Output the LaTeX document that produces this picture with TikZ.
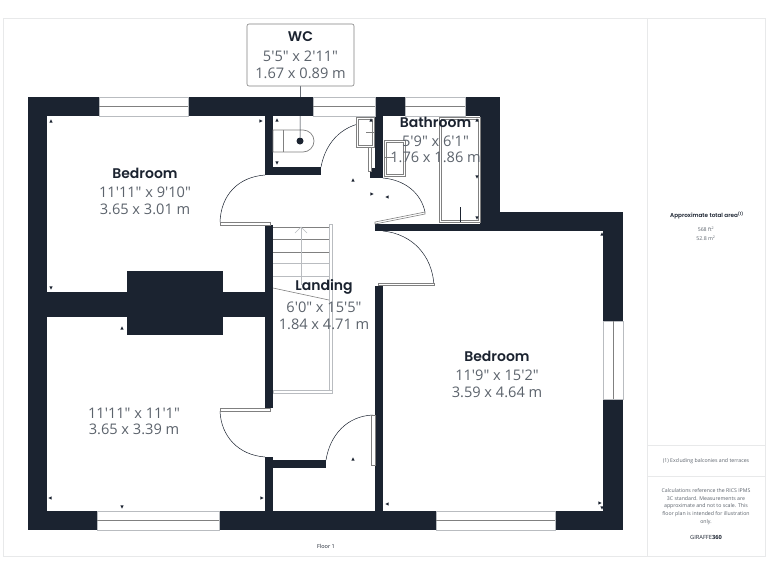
\documentclass[tikz,border=0pt]{standalone}
\usepackage{fontspec}
\setmainfont{Open Sans}
\newfontfamily\dimfont{Open Sans}
\newfontfamily\titlefont{Poppins SemiBold}
\usepackage{xcolor}
\definecolor{wallcol}{HTML}{1B2330}
\definecolor{dimcol}{HTML}{5C636C}
\definecolor{framecol}{HTML}{E8E9EA}
\definecolor{railcol}{HTML}{B9BCC0}
\tikzset{
    wall/.style={fill=wallcol,draw=none},
    glazing/.style={fill=white,draw=railcol,line width=0.7pt},
    pane/.style={draw=gray,line width=0.7pt},
    swing/.style={draw=wallcol,line width=0.5pt},
    leaf/.style={fill=white,draw=gray,line width=0.6pt},
    fitting/.style={draw=gray,line width=0.7pt},
    rail/.style={draw=railcol,line width=0.8pt,fill=white},
    tread/.style={draw=gray,line width=0.6pt},
    frameline/.style={draw=framecol,line width=0.6pt},
    roomtitle/.style={font=\titlefont\fontsize{14}{16}\selectfont,text=wallcol,inner sep=0pt},
    roomdim/.style={font=\dimfont\fontsize{14.6}{16.5}\selectfont,text=dimcol,inner sep=0pt,align=center},
    tick/.style={fill=wallcol,draw=none},
    sidetext/.style={font=\fontsize{5.2}{7.6}\selectfont,text=dimcol,inner sep=0pt,align=center},
}
\begin{document}
\begin{tikzpicture}[x=1pt,y=-1pt]
\useasboundingbox (0,0) rectangle (768,576);
\fill[white] (0,0) rectangle (768,576);

% frame and side panel
\draw[frameline] (3,18) rectangle (765,556);
\draw[frameline] (647,18) -- (647,556);
\draw[frameline] (647,445) -- (765,445);
\draw[frameline] (647,476) -- (765,476);

% walls
\foreach \xa/\ya/\xb/\yb in {28/97/99/116,188/97/313/116,375/97/405/116,465/97/500/116,
    28/97/47/530,28/511/97/530,219/511/436/530,555/511/623/530,
    603/212/623/321,603/399/623/530,480/212/623/231,480/97/500/231,375/224/480/231,
    47/292/265/317,127/271/223/335,265/225/273/408,265/457/273/511,273/460/326/468,
    265/116/273/175,265/167/321/175,375/116/383/178,370/168/383/178,375/286/383/511}
    \fill[wall] (\xa,\ya) rectangle (\xb,\yb);

% windows
\foreach \xa/\xb/\ya/\yb in {99/188/97/116,313/375/97/116,405/465/97/116,97/219/511/530,436/555/511/530}{
    \draw[glazing] (\xa,\ya) rectangle (\xb,\yb);
    \draw[pane] (\xa,{(\ya+\yb)/2}) -- (\xb,{(\ya+\yb)/2});
}
\draw[glazing] (603,321) rectangle (623,399);
\draw[pane] (613,321) -- (613,399);

% doors
\draw[swing] (321,167) .. controls (326,140) and (345,123) .. (371,122);
\draw[leaf] (368,122) rectangle (371,171);
\draw[swing] (265,175) .. controls (238,177) and (221,195) .. (220,222);
\draw[leaf] (220,222) rectangle (270,225);
\draw[swing] (383,178) .. controls (405,180) and (421,193) .. (425,212);
\draw[leaf] (375,222) -- (425,212) -- (425,214) -- (375,224) -- cycle;
\draw[swing] (383,231) .. controls (412,234) and (432,255) .. (434,285);
\draw[leaf] (378,283) rectangle (434,285);
\draw[swing] (220,411) .. controls (221,436) and (238,455) .. (265,457);
\draw[leaf] (220,408) rectangle (270,411);
\draw[swing] (326,460) .. controls (330,435) and (347,416) .. (373,415);
\draw[leaf] (371,415) rectangle (375,465);

% fittings
\draw[fitting,fill=white] (356,117) rectangle (374,147);
\draw[fitting] (358,119) rectangle (372,145);
\draw[fitting] (366,132) -- (374,132);
\draw[fitting,fill=white] (384,140) rectangle (405,176);
\draw[fitting] (386,142) rectangle (403,174);
\draw[fitting] (384,157) -- (394,157);
\draw[fitting,fill=white] (439,117) rectangle (480,222);
\draw[fitting] (441,119) rectangle (478,220);
\draw[wallcol,line width=0.5pt] (460,207) -- (460,222);
\draw[fitting,fill=white] (273,130) -- (303,130) arc (-90:90:11) -- (273,152) -- cycle;
\draw[fitting] (283,130) -- (283,152);

% stairs
\draw[rail] (329,224) rectangle (332,393);
\draw[rail] (273,390) rectangle (332,393);
\foreach \ty in {227,239,252}
    \draw[tread] (273,\ty) -- (329,\ty);
\foreach \ty in {263,276}
    \draw[railcol,line width=0.7pt] (273,\ty) -- (329,\ty);
\draw[railcol,line width=0.6pt] (301,227) -- (301,285);
\draw[railcol,line width=0.6pt] (295,233) -- (301,227) -- (307,233);
\draw[gray,line width=0.6pt] (273,288) -- (329,300);

% measuring ticks
\foreach \tx/\ty in {51/121,122/328,277/120,371/120,477/120,602/234,353/180,353/459}
    \fill[tick] (\tx-1.6,\ty+1.6) -- (\tx+1.6,\ty+1.6) -- (\tx,\ty-1.6) -- cycle;
\foreach \tx/\ty in {51/288,122/507,277/163,477/177,477/218,602/508}
    \fill[tick] (\tx-1.6,\ty-1.6) -- (\tx+1.6,\ty-1.6) -- (\tx,\ty+1.6) -- cycle;
\foreach \tx/\ty in {50/498,387/504,387/197}
    \fill[tick] (\tx+1.6,\ty-1.6) -- (\tx+1.6,\ty+1.6) -- (\tx-1.6,\ty) -- cycle;
\foreach \tx/\ty in {261/121,262/498,372/194,600/503}
    \fill[tick] (\tx-1.6,\ty-1.6) -- (\tx-1.6,\ty+1.6) -- (\tx+1.6,\ty) -- cycle;

% room labels
\node[roomtitle] (bedroomtop) at (145,173.5) {Bedroom};
\node[roomdim,below=8pt] (bedroomtopdim) at (bedroomtop.south) {11'11" x 9'10"\\3.65 x 3.01 m};
\node[roomdim] (bedroomlow) at (134,421.5) {11'11" x 11'1"\\3.65 x 3.39 m};
\node[roomtitle] (landing) at (324,287) {Landing};
\node[roomdim,below=7.5pt] (landingdim) at (landing.south) {6'0" x 15'5"\\1.84 x 4.71 m};
\node[roomtitle] (bedroommain) at (497,356) {Bedroom};
\node[roomdim,below=8.5pt] (bedroommaindim) at (bedroommain.south) {11'9" x 15'2"\\3.59 x 4.64 m};
\node[roomtitle] (bathroom) at (435.5,122) {Bathroom};
\node[roomdim,below=8pt] (bathroomdim) at (bathroom.south) {5'9" x 6'1"\\1.76 x 1.86 m};

% WC callout
\node[draw=gray,fill=white,rounded corners=2pt,line width=0.6pt,minimum width=107pt,minimum height=62pt,
    inner sep=0pt] (wcbox) at (300.5,55) {};
\node[roomtitle] (wc) at (300.5,37) {WC};
\node[roomdim] (wcdim) at (300.5,65) {5'5" x 2'11"\\1.67 x 0.89 m};
\node[circle,fill=wallcol,minimum size=7pt,inner sep=0pt] (wcdot) at (300,141) {};
\draw[wallcol,line width=0.5pt] (wcbox.south) -- (wcdot);

% floor and side panel
\node[sidetext,font=\fontsize{5.5}{7}\selectfont,text=wallcol] (floorname) at (326,546) {Floor 1};
\node[sidetext,font=\titlefont\fontsize{5.7}{7}\selectfont,text=wallcol] (areatitle) at (707,215.5) {Approximate total area\textsuperscript{(1)}};
\node[sidetext] (areaval) at (706,233.5) {568 ft\textsuperscript{2}\\[1pt]52.8 m\textsuperscript{2}};
\node[sidetext] (areanote) at (706,461) {(1) Excluding balconies and terraces};
\node[sidetext] (calcnote) at (706,506.5) {Calculations reference the RICS IPMS\\3C standard. Measurements are\\approximate and not to scale. This\\floor plan is intended for illustration\\only.};
\node[sidetext,font=\fontsize{5.7}{7}\selectfont,text=wallcol] (brand) at (706,537) {GIRAFFE\textbf{360}};
\end{tikzpicture}
\end{document}
